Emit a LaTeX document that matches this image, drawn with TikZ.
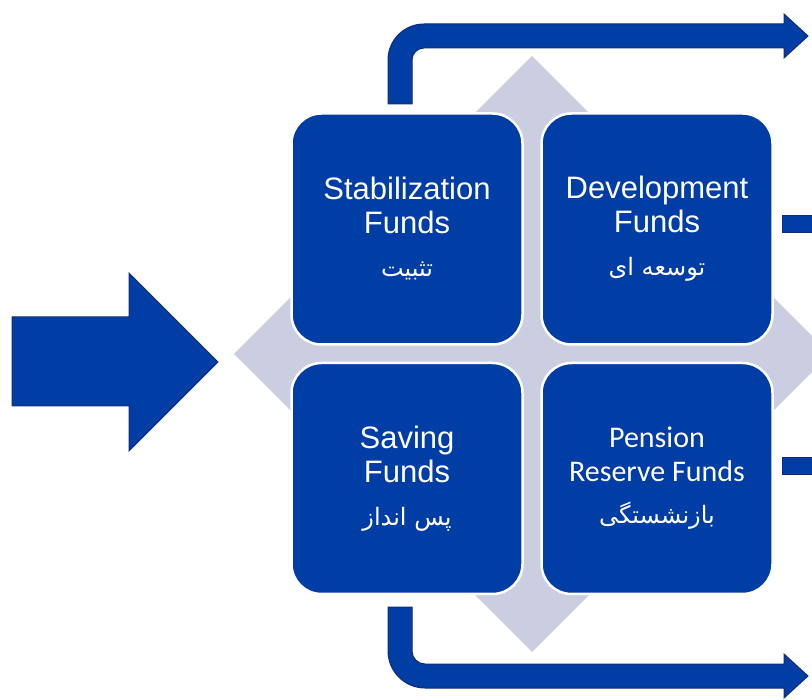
\documentclass[tikz,border=0pt]{standalone}
\usepackage{fontspec}
\setmainfont{Liberation Sans}
\newfontfamily\arabicfont[Script=Arabic]{DejaVu Sans}
\newfontfamily\calfont{Carlito}
\TeXXeTstate=1
\definecolor{fundblue}{RGB}{0,61,165}
\definecolor{arrowline}{RGB}{18,45,120}
\definecolor{diamondgray}{RGB}{203,206,224}
\tikzset{
  fundbox/.style={draw=white, line width=2.5pt, fill=fundblue, rounded corners=30pt,
    minimum width=231pt, minimum height=231pt, inner sep=0pt, align=center, text=white,
    font=\fontsize{31}{34}\selectfont},
  bluearrow/.style={fill=fundblue, draw=arrowline, line width=1pt, line join=miter}
}
\newcommand{\fa}[1]{{\arabicfont\fontsize{24}{27}\selectfont\beginR #1\endR}}
\begin{document}
\begin{tikzpicture}[x=1pt,y=-1pt]
\useasboundingbox (0,0) rectangle (812,700);
\clip (0,0) rectangle (812,700);
% diamond background
\fill[diamondgray] (532,56) -- (830,354) -- (532,652) -- (234,354) -- cycle;
% right stubs
\draw[bluearrow] (782,216) rectangle (840,233);
\draw[bluearrow] (782,458) rectangle (840,475);
% boxes
\node[fundbox] (stab) at (407,229) {Stabilization\\Funds\\[9pt]\fa{تثبیت}};
\node[fundbox] (dev) at (657,229) {Development\\Funds\\[9pt]\fa{توسعه ای}};
\node[fundbox] (sav) at (407,478.5) {Saving\\Funds\\[9pt]\fa{پس انداز}};
\node[fundbox, font=\calfont\fontsize{30}{34}\selectfont] (pen) at (657,478.5) {Pension\\Reserve Funds\\[8pt]\fa{بازنشستگی}};
% left big arrow
\draw[bluearrow] (12,317) -- (129,317) -- (129,273) -- (218,362) -- (129,451) -- (129,406) -- (12,406) -- cycle;
% top bent arrow
\draw[bluearrow] (388,104) -- (388,60) .. controls (388,40.1) and (404.1,24) .. (424,24)
  -- (784,24) -- (784,14) -- (808,36) -- (784,58) -- (784,48) -- (424,48)
  .. controls (417.4,48) and (412,53.4) .. (412,60) -- (412,104) -- cycle;
% bottom bent arrow
\draw[bluearrow] (388,607) -- (388,651) .. controls (388,671.4) and (404.6,688) .. (425,688)
  -- (784,688) -- (784,698) -- (808,676) -- (784,654) -- (784,664) -- (425,664)
  .. controls (417.8,664) and (412,658.2) .. (412,651) -- (412,607) -- cycle;
\end{tikzpicture}
\end{document}
